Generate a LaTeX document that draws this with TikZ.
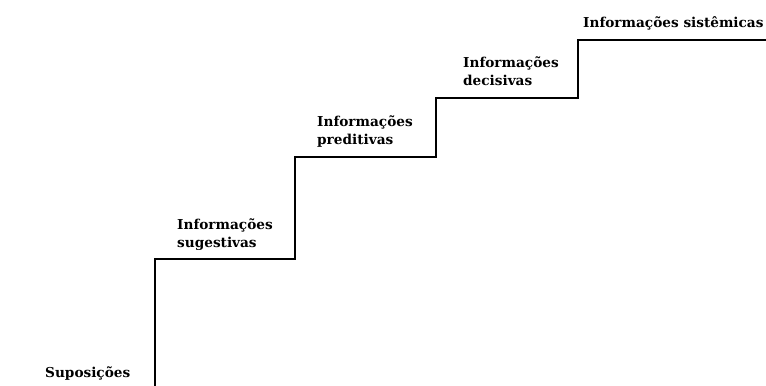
\documentclass[tikz,border=0pt]{standalone}
\usepackage{fontspec}
\setmainfont{DejaVu Serif}
\begin{document}
\begin{tikzpicture}[x=1bp,y=-1bp,
  lbl/.style={inner sep=0pt, anchor=base west, align=left,
    font=\fontsize{13.7}{17.5}\selectfont\bfseries},
  stair/.style={line width=1.8bp, line join=miter, line cap=rect}]
\useasboundingbox (0,0) rectangle (766,385);
\coordinate (s0) at (155,386);
\coordinate (s1) at (155,259);
\coordinate (s2) at (295,259);
\coordinate (s3) at (295,157);
\coordinate (s4) at (436,157);
\coordinate (s5) at (436,98);
\coordinate (s6) at (578,98);
\coordinate (s7) at (578,40);
\coordinate (s8) at (766,40);
\draw[stair] (s0) -- (s1) -- (s2) -- (s3) -- (s4) -- (s5) -- (s6) -- (s7) -- (s8);
\node[lbl] (sup) at (45,377) {Suposições};
\node[lbl] (sug) at (177,247) {Informações\\sugestivas};
\node[lbl] (pre) at (317,144) {Informações\\preditivas};
\node[lbl] (dec) at (463,85) {Informações\\decisivas};
\node[lbl] (sis) at (583,27) {Informações sistêmicas};
\end{tikzpicture}
\end{document}
